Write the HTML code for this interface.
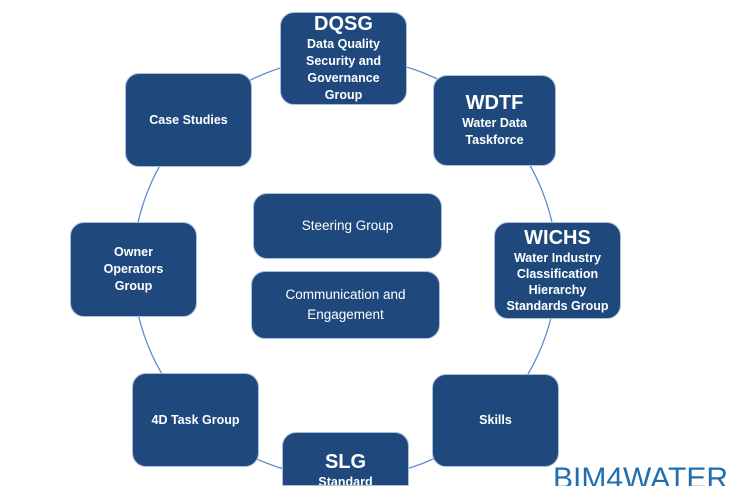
<!DOCTYPE html>
<html><head><meta charset="utf-8"><style>
html,body{margin:0;padding:0;width:741px;height:486px;overflow:hidden;background:#fff;font-family:"Liberation Sans",sans-serif}
#w{position:relative;width:741px;height:486px;overflow:hidden}
.b{position:absolute;background:#1f497d;border:1.5px solid #a9bfdc;border-radius:14px;box-sizing:border-box;color:#fff;font-weight:bold;font-size:12.5px;line-height:17px;text-align:center;display:flex;flex-direction:column;justify-content:center;align-items:center}
.h{font-size:20px;line-height:23px}
.n{font-weight:normal;font-size:13.5px;line-height:20px}
</style></head><body><div id="w">
<svg width="741" height="486" style="position:absolute;left:0;top:0">
<ellipse cx="345" cy="268" rx="212" ry="210" fill="none" stroke="#5b8fd0" stroke-width="1.3"/>
</svg>
<div class="b" style="left:280px;top:12px;width:127px;height:93px"><div class="h">DQSG</div>Data Quality<br>Security and<br>Governance<br>Group</div>
<div class="b" style="left:433px;top:75px;width:123px;height:91px"><div class="h">WDTF</div>Water Data<br>Taskforce</div>
<div class="b" style="left:494px;top:222px;width:127px;height:97px;line-height:16px"><div class="h">WICHS</div>Water Industry<br>Classification<br>Hierarchy<br>Standards Group</div>
<div class="b" style="left:432px;top:374px;width:127px;height:93px">Skills</div>
<div class="b" style="left:282px;top:432px;width:127px;height:54px;border-bottom-left-radius:0;border-bottom-right-radius:0;justify-content:flex-start;padding-top:18px;overflow:hidden"><div class="h">SLG</div>Standard</div>
<div class="b" style="left:132px;top:373px;width:127px;height:94px">4D Task Group</div>
<div class="b" style="left:70px;top:222px;width:127px;height:95px">Owner<br>Operators<br>Group</div>
<div class="b" style="left:125px;top:73px;width:127px;height:94px">Case Studies</div>
<div class="b n" style="left:253px;top:193px;width:189px;height:66px">Steering Group</div>
<div class="b n" style="left:251px;top:271px;width:189px;height:68px">Communication and<br>Engagement</div>
<div style="position:absolute;left:553px;top:462px;height:24px;overflow:hidden;font-size:30px;color:#1f6fb0;line-height:34px;white-space:nowrap">BIM4WATER</div>
</div></body></html>
